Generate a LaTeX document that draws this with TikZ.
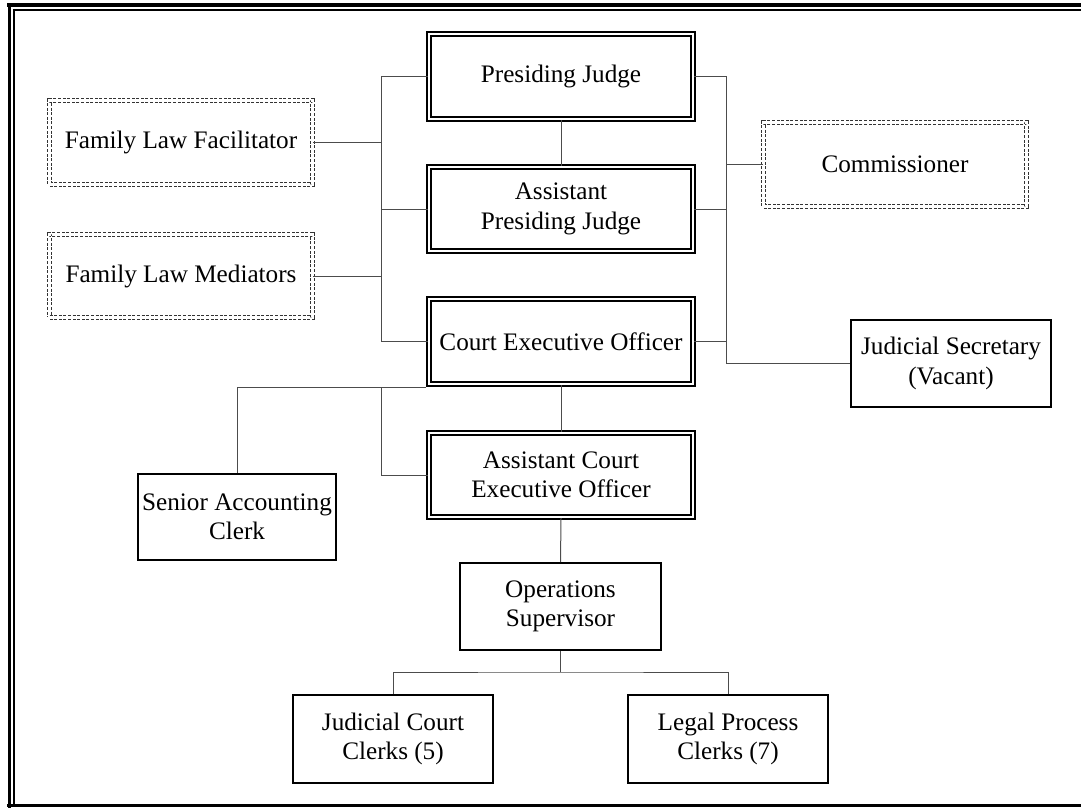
\documentclass[tikz,border=0pt]{standalone}
\usepackage{fontspec}
\setmainfont{Liberation Serif}
\begin{document}
\begin{tikzpicture}[x=1pt,y=-1pt,
  every node/.style={font=\fontsize{25.2}{29.5}\selectfont, align=center, inner sep=0pt, text=black},
  dbox/.style={draw=black, line width=2pt, double, double distance=1.6pt, fill=white},
  sbox/.style={draw=black, line width=2.2pt, fill=white},
  dashbox/.style={draw=black!80, line width=1pt, double, double distance=3.2pt, dash pattern=on 3pt off 1.6pt},
  conn/.style={draw=black!70, line width=1pt},
  framethick/.style={line width=3.6pt, black},
  framethin/.style={line width=1.6pt, black}]
\useasboundingbox (0,0) rectangle (1081,808);
% outer frame
\draw[framethick] (7,5) -- (1081,5);
\draw[framethick] (9.5,3.2) -- (9.5,808);
\draw[framethick] (7,805.6) -- (1081,805.6);
\draw[framethin] (12.9,9.8) -- (1081,9.8);
\draw[framethin] (13.7,9) -- (13.7,804);

% nodes
\node[dbox, minimum width=264.4pt, minimum height=85.4pt] (pj) at (561,76.5) {Presiding Judge};
\node[dbox, minimum width=264.4pt, minimum height=84.4pt] (apj) at (561,209) {Assistant\\Presiding Judge};
\node[dbox, minimum width=264.4pt, minimum height=85.4pt] (ceo) at (561,341.5) {Court Executive Officer};
\node[dbox, minimum width=264.4pt, minimum height=84.4pt] (aceo) at (561,475) {Assistant Court\\Executive Officer};
\node[sbox, minimum width=200.8pt, minimum height=86.8pt] (ops) at (560.5,606.5) {Operations\\Supervisor};
\node[sbox, minimum width=199.8pt, minimum height=87.8pt] (jcc) at (393,739) {Judicial Court\\Clerks (5)};
\node[sbox, minimum width=199.8pt, minimum height=87.8pt] (lpc) at (728,739) {Legal Process\\Clerks (7)};
\node[sbox, minimum width=197.8pt, minimum height=85.8pt] (sac) at (237,517) {Senior Accounting\\Clerk};
\node[sbox, minimum width=199.8pt, minimum height=86.8pt] (js) at (951,363.5) {Judicial Secretary\\(Vacant)};
\node[dashbox, minimum width=262.8pt, minimum height=83.8pt] (flf) at (181,142.5) {Family Law Facilitator};
\node[dashbox, minimum width=262.8pt, minimum height=82.8pt] (flm) at (181,276) {Family Law Mediators};
\node[dashbox, minimum width=262.8pt, minimum height=83.8pt] (com) at (895,164.5) {Commissioner};

% helper coordinates
\coordinate (lt) at (381,76.5);
\coordinate (lb) at (381,341.5);
\coordinate (rt) at (726,76.5);
\coordinate (rb) at (726,363.5);
\coordinate (cbl) at (237,387);
\coordinate (cbm) at (381,387);
\coordinate (ceobl) at (426,387);
\coordinate (opsbus) at (560.5,672);

% connectors
\draw[conn] (pj.west) -- (lt) -- (lb) -- (ceo.west);
\draw[conn] (apj.west) -- (apj.west -| lt);
\draw[conn] (flf.east) -- (flf.east -| lt);
\draw[conn] (flm.east) -- (flm.east -| lt);
\draw[conn] (pj.east) -- (rt) -- (rb) -- (js.west);
\draw[conn] (apj.east) -- (apj.east -| rt);
\draw[conn] (ceo.east) -- (ceo.east -| rt);
\draw[conn] (com.west) -- (com.west -| rt);
\draw[conn] (pj.south) -- (apj.north);
\draw[conn] (ceo.south) -- (aceo.north);
\draw[conn] (ceobl) -- (cbl) -- (sac.north);
\draw[conn] (cbm) |- (aceo.west);
\draw[conn] (aceo.south) -- (ops.north);
\draw[conn] (ops.south) -- (opsbus);
\draw[conn] (jcc.north) |- (opsbus) -| (lpc.north);
\end{tikzpicture}
\end{document}
